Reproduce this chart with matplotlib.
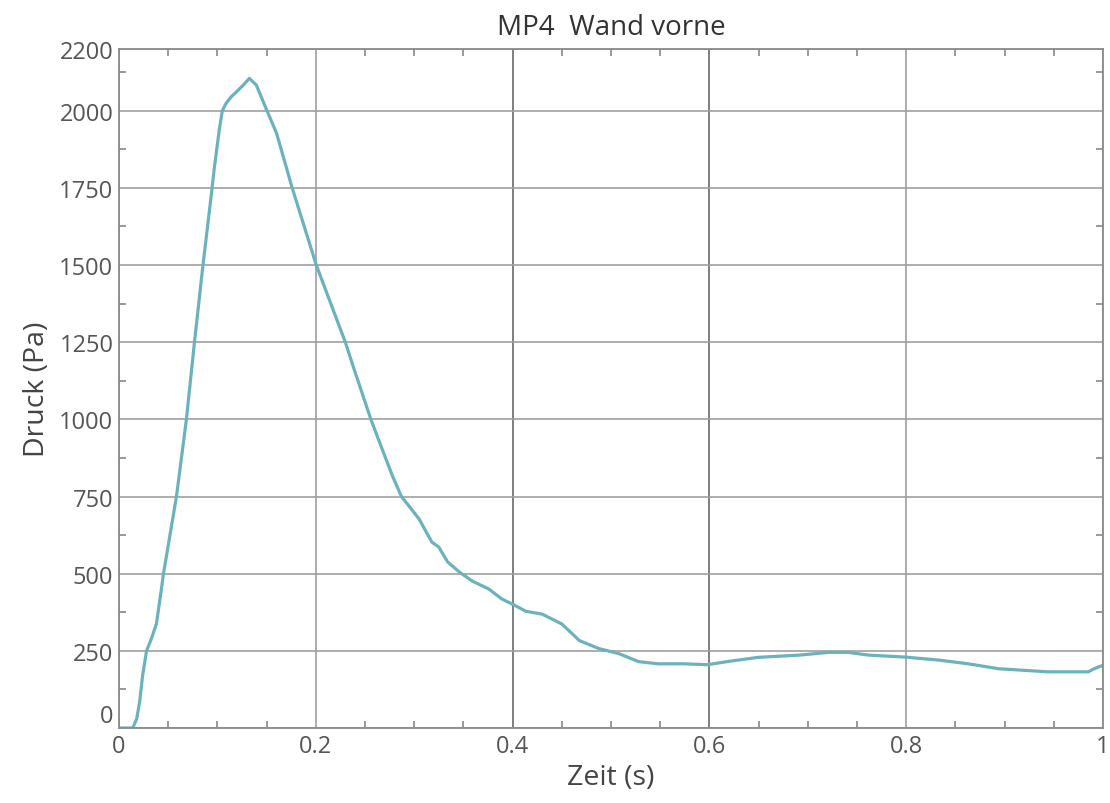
import matplotlib
matplotlib.use("Agg")
import matplotlib.pyplot as plt
from matplotlib.ticker import MultipleLocator

# Pressure at measuring point MP4 (front wall)
zeit = [0.000, 0.014, 0.018, 0.021, 0.024, 0.028, 0.033, 0.038, 0.0431, 0.0452,
        0.0584, 0.0685, 0.0767, 0.085, 0.094, 0.097, 0.102, 0.105, 0.109,
        0.114, 0.119, 0.126, 0.1325, 0.1396, 0.150, 0.160, 0.165, 0.176, 0.2005,
        0.230, 0.239, 0.256, 0.2675, 0.278, 0.287, 0.295, 0.305, 0.318, 0.325,
        0.334, 0.346, 0.359, 0.376, 0.389, 0.400, 0.4135, 0.430, 0.450, 0.468,
        0.488, 0.508, 0.528, 0.548, 0.574, 0.598, 0.620, 0.650, 0.691, 0.721,
        0.741, 0.762, 0.798, 0.833, 0.863, 0.894, 0.944, 0.985, 0.991, 1.000]
druck = [0, 0, 30, 85, 170, 250, 290, 337, 450, 500,
         750, 1000, 1250, 1490, 1733, 1818, 1940, 2000, 2025,
         2045, 2060, 2082, 2105, 2083, 2003, 1928, 1873, 1750, 1500,
         1250, 1162, 1000, 903, 816, 750, 718, 677, 602, 586,
         538, 505, 476, 450, 418, 401, 378, 369, 337, 283,
         257, 241, 215, 208, 208, 205, 216, 229, 236, 245,
         245, 236, 230, 220, 208, 192, 182, 182, 192, 203]

x_ticks = [0, 0.2, 0.4, 0.6, 0.8, 1]
x_tick_labels = ["0", "0.2", "0.4", "0.6", "0.8", "1"]
y_ticks = [0, 250, 500, 750, 1000, 1250, 1500, 1750, 2000, 2200]
y_tick_labels = ["0", "250", "500", "750", "1000", "1250", "1500", "1750", "2000", "2200"]

plt.rcParams["font.family"] = ["Open Sans", "DejaVu Sans"]

fig = plt.figure(figsize=(11.1, 8.04), dpi=100)
ax = fig.add_axes([0.1072, 0.0933, 0.8865, 0.8445])

ax.plot(zeit, druck, color="#6cb2bd", lw=2.3, solid_joinstyle="round")

ax.set_xlim(0, 1)
ax.set_ylim(0, 2200)
ax.set_xticks(x_ticks)
ax.set_xticklabels(x_tick_labels)
ax.set_yticks(y_ticks)
ax.set_yticklabels(y_tick_labels)
ax.xaxis.set_minor_locator(MultipleLocator(0.05))
ax.yaxis.set_minor_locator(MultipleLocator(125))

ax.tick_params(which="major", length=0, labelsize=17, labelcolor="#555555", pad=4)
ax.tick_params(which="minor", direction="in", length=5, width=1.2, color="#888888",
               top=True, bottom=True, left=True, right=True)

ax.grid(True, which="major", color="#a0a0a0", lw=1.2)
# the inner time gridlines are drawn a little darker
for tick_val, gl in zip(ax.get_xticks(), ax.xaxis.get_gridlines()):
    if abs(tick_val - 0.4) < 1e-6 or abs(tick_val - 0.6) < 1e-6:
        gl.set_color("#6a6a6a")
ax.set_axisbelow(True)

for sp in ax.spines.values():
    sp.set_color("#8a8a8a")
    sp.set_linewidth(1.3)

# keep the zero label clear of the bottom axis
for lbl in ax.get_yticklabels():
    if lbl.get_text() == "0":
        lbl.set_va("bottom")

ax.set_title("MP4  Wand vorne", fontsize=20, color="#333333", pad=11)
ax.set_xlabel("Zeit (s)", fontsize=20.5, color="#444444", labelpad=4)
ax.set_ylabel("Druck (Pa)", fontsize=20.5, color="#444444", labelpad=6)

fig.savefig("out.png", dpi=100)
